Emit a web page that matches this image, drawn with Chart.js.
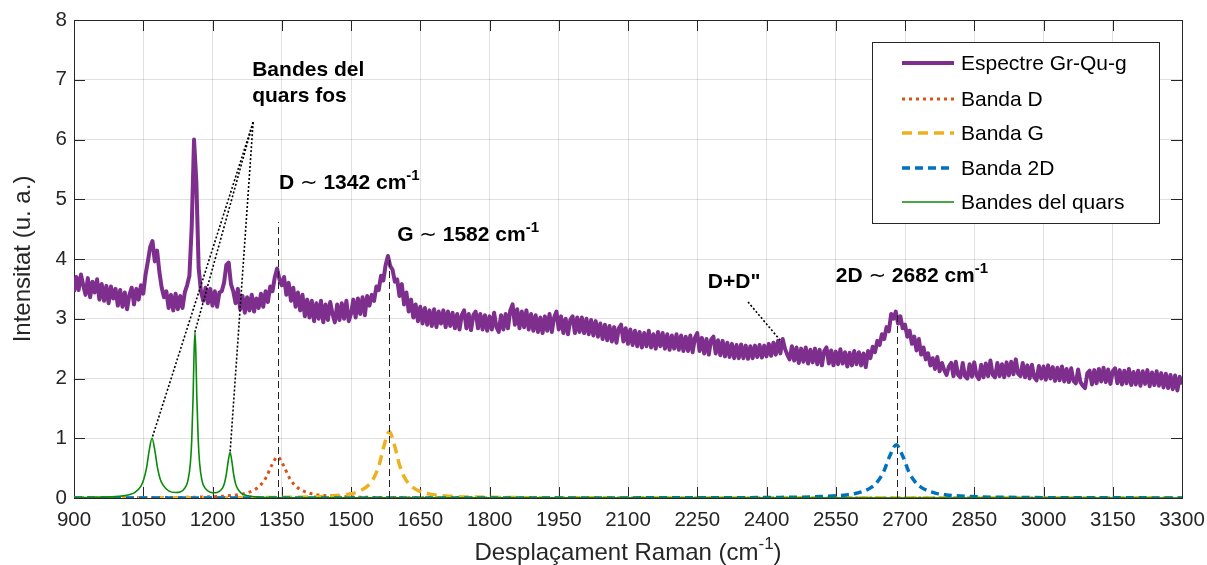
<!DOCTYPE html>
<html><head><meta charset="utf-8">
<script src="https://cdn.jsdelivr.net/npm/chart.js@4.4.1/dist/chart.umd.min.js"></script>
<style>html,body{margin:0;padding:0;background:#fff;}</style>
</head><body>
<canvas id="c" width="1207" height="565"></canvas>
<script>
const FONT = "'Liberation Sans', Arial, Helvetica, sans-serif";

// ---- axis ticks ----
const xTicks = [900,1050,1200,1350,1500,1650,1800,1950,2100,2250,2400,2550,2700,2850,3000,3150,3300];
const yTicks = [0,1,2,3,4,5,6,7,8];

// ---- measured spectrum (Raman shift grid: 900..3300 every 5 cm-1) ----
const ramanStart = 900, ramanStep = 5;
const spectrumValues = [
3.45,3.70,3.48,3.74,3.56,3.40,3.68,3.36,3.62,3.44,3.66,3.32,3.58,3.30,3.55,3.26,3.54,3.34,3.50,3.22,
3.48,3.20,3.44,3.16,3.40,3.52,3.24,3.50,3.32,3.56,3.42,3.74,3.96,4.20,4.30,3.96,4.14,3.78,3.52,3.36,
3.46,3.18,3.40,3.14,3.42,3.16,3.38,3.18,3.44,3.56,3.72,4.55,6.00,5.30,3.85,3.46,3.30,3.52,3.26,3.50,
3.22,3.46,3.20,3.44,3.46,3.60,3.90,3.94,3.58,3.46,3.26,3.50,3.16,3.38,3.10,3.36,3.14,3.40,3.12,3.34,
3.18,3.42,3.20,3.46,3.28,3.54,3.46,3.70,3.84,3.66,3.56,3.70,3.40,3.60,3.30,3.52,3.20,3.44,3.14,3.40,
3.04,3.32,3.02,3.30,2.96,3.26,3.00,3.30,2.94,3.24,2.98,3.28,3.08,2.94,3.24,2.98,3.26,3.00,3.30,2.96,
3.08,3.32,3.02,3.34,3.08,3.36,3.06,3.38,3.22,3.40,3.30,3.54,3.48,3.72,3.64,3.90,4.05,3.88,3.82,3.62,
3.66,3.38,3.58,3.24,3.44,3.12,3.32,3.02,3.24,2.96,3.20,2.92,3.18,2.90,3.14,2.88,3.16,2.86,3.12,2.92,
3.14,2.86,3.12,2.88,3.10,2.84,3.08,2.82,3.06,3.14,2.84,3.08,2.81,3.06,3.12,2.84,3.08,2.82,3.06,2.80,
3.04,2.82,3.10,2.86,2.78,3.06,2.82,3.08,2.84,3.14,3.24,2.90,3.16,2.84,3.12,2.86,3.14,2.82,3.08,2.80,
3.06,2.78,3.02,2.76,3.04,2.80,3.08,2.78,3.02,3.12,2.82,3.04,2.76,3.00,2.74,2.98,3.04,2.76,3.02,2.78,
3.02,2.76,3.00,2.74,2.98,2.72,2.96,2.70,2.92,2.66,2.90,2.64,2.88,2.62,2.86,2.60,2.84,2.90,2.62,2.84,
2.58,2.82,2.56,2.80,2.54,2.78,2.52,2.76,2.54,2.80,2.52,2.74,2.50,2.78,2.54,2.76,2.50,2.74,2.48,2.72,
2.50,2.74,2.48,2.72,2.46,2.70,2.46,2.72,2.44,2.68,2.76,2.46,2.68,2.42,2.66,2.40,2.65,2.70,2.42,2.64,
2.39,2.63,2.37,2.60,2.36,2.58,2.34,2.56,2.34,2.57,2.34,2.55,2.33,2.54,2.34,2.55,2.36,2.56,2.35,2.55,
2.37,2.58,2.38,2.60,2.40,2.63,2.42,2.66,2.50,2.40,2.32,2.54,2.30,2.52,2.26,2.50,2.28,2.52,2.25,2.48,
2.27,2.50,2.24,2.48,2.22,2.46,2.52,2.25,2.47,2.22,2.45,2.24,2.49,2.25,2.44,2.20,2.43,2.22,2.46,2.24,
2.44,2.22,2.42,2.19,2.46,2.34,2.53,2.44,2.63,2.56,2.74,2.66,2.86,2.79,3.08,3.00,3.12,2.92,3.04,2.84,
2.90,2.70,2.80,2.58,2.70,2.47,2.66,2.40,2.52,2.32,2.42,2.22,2.34,2.16,2.36,2.12,2.26,2.14,2.06,2.20,
2.26,2.04,2.28,2.06,2.02,2.26,2.04,2.00,2.24,2.03,2.27,2.05,1.99,2.23,2.02,2.25,2.04,2.30,2.06,2.02,
2.26,2.04,2.24,2.02,2.27,2.05,2.28,2.07,2.32,2.08,2.04,2.26,2.02,2.22,2.00,2.23,2.02,1.97,2.21,2.00,
2.20,1.98,2.22,2.00,2.19,1.96,2.18,1.97,2.20,1.95,2.16,1.94,2.17,1.96,1.92,2.15,1.94,1.88,1.84,2.09,
2.13,1.90,2.14,1.92,2.16,1.95,2.18,1.94,2.15,1.91,2.12,2.17,1.92,2.14,1.90,2.13,1.92,2.16,1.89,2.11,
1.90,2.13,1.88,2.12,1.91,2.14,1.87,2.10,1.89,2.12,1.88,2.09,1.85,2.08,1.84,2.06,1.82,2.05,1.80,2.03,
1.90
];

// ---- fitted bands as [shift, intensity] ----
const bandD = [[900,0.002],[1091,0.007],[1191,0.019],[1241,0.041],[1266,0.069],[1291,0.138],[1303.5,0.212],[1316,0.345],[1328.5,0.55],[1341,0.69],[1353.5,0.55],[1366,0.345],[1378.5,0.212],[1391,0.138],[1416,0.069],[1441,0.041],[1491,0.019],[1591,0.007],[1841,0.0017],[3300,0.0003]];
const bandG = [[900,0.001],[1143,0.0028],[1363,0.011],[1451,0.030],[1495,0.065],[1517,0.111],[1539,0.222],[1550,0.342],[1561,0.555],[1572,0.888],[1583,1.11],[1594,0.888],[1605,0.555],[1616,0.342],[1627,0.222],[1649,0.111],[1671,0.065],[1715,0.030],[1803,0.011],[2023,0.0028],[3300,0.0004]];
const band2D = [[900,0.0002],[2141,0.0022],[2411,0.0088],[2519,0.024],[2573,0.052],[2600,0.089],[2627,0.178],[2640.5,0.274],[2654,0.445],[2667.5,0.712],[2681,0.89],[2694.5,0.712],[2708,0.445],[2721.5,0.274],[2735,0.178],[2762,0.089],[2789,0.052],[2843,0.024],[2951,0.0088],[3221,0.0022],[3300,0.0018]];
const quartzBands = [[900,0.006],[950,0.01],[997,0.027],[1021,0.059],[1033,0.10],[1045,0.20],[1051,0.31],[1057,0.50],[1063,0.80],[1069,1.00],[1075,0.80],[1081,0.50],[1087,0.31],[1093,0.215],[1105,0.12],[1120,0.092],[1130,0.10],[1140,0.164],[1147,0.30],[1152,0.576],[1155,0.96],[1158,1.70],[1160,2.40],[1162,2.78],[1164,2.40],[1166,1.70],[1169,0.985],[1172,0.59],[1177,0.30],[1184,0.164],[1195,0.097],[1206,0.087],[1214,0.108],[1222,0.17],[1226,0.25],[1230,0.40],[1234,0.615],[1238,0.765],[1242,0.61],[1246,0.385],[1250,0.24],[1254,0.16],[1262,0.083],[1270,0.05],[1286,0.025],[1320,0.008],[1400,0.004],[1700,0.0015],[3300,0.0003]];

// ---- annotations ----
const peakMarkers = [[1342,4.62],[1582,4.0],[2682,3.1]];   // x, top of the dashed guide
const quartzPointerFrom = [1288,6.29];
const quartzPointerTo = [[1069,1.0],[1162,2.78],[1238,0.75]];
const ddPointer = [[2360,3.28],[2433,2.61]];

const toXY = arr => arr.map(p => ({x:p[0], y:p[1]}));
const spectrumXY = spectrumValues.map((v,i) => ({x: ramanStart + i*ramanStep, y: v}));

const AX = '#262626';

function drawRich(ctx, parts, x, y){
  let cx = x;
  for (const p of parts){
    ctx.font = p.font;
    ctx.fillText(p.t, cx, y - (p.dy||0));
    cx += ctx.measureText(p.t).width;
  }
  return cx;
}

const framePlugin = {
  id:'frame',
  beforeDatasetsDraw(chart){
    const {ctx, chartArea:a, scales:{x,y}} = chart;
    ctx.save();
    ctx.strokeStyle = AX; ctx.lineWidth = 1;
    ctx.beginPath();
    const L = 11;
    for (const t of xTicks){
      const px = Math.round(x.getPixelForValue(t))+0.5;
      ctx.moveTo(px, a.bottom); ctx.lineTo(px, a.bottom-L);
      ctx.moveTo(px, a.top); ctx.lineTo(px, a.top+L);
    }
    for (const t of yTicks){
      const py = Math.round(y.getPixelForValue(t))+0.5;
      ctx.moveTo(a.left, py); ctx.lineTo(a.left+L, py);
      ctx.moveTo(a.right, py); ctx.lineTo(a.right-L, py);
    }
    ctx.stroke();
    ctx.strokeRect(Math.round(a.left)+0.5, Math.round(a.top)+0.5, Math.round(a.right-a.left), Math.round(a.bottom-a.top));
    ctx.restore();
  },
  afterDatasetsDraw(chart){
    const {ctx, chartArea:a, scales:{x,y}} = chart;
    const X = v => x.getPixelForValue(v), Y = v => y.getPixelForValue(v);
    ctx.save();
    // dashed peak guides
    ctx.strokeStyle = '#222'; ctx.lineWidth = 1; ctx.setLineDash([7,4]);
    for (const [vx,vy] of peakMarkers){
      ctx.beginPath(); ctx.moveTo(Math.round(X(vx))+0.5, Y(0)); ctx.lineTo(Math.round(X(vx))+0.5, Y(vy)); ctx.stroke();
    }
    // dotted pointers
    ctx.setLineDash([2,2]); ctx.lineWidth = 1.6; ctx.strokeStyle = '#000';
    for (const [tx,ty] of quartzPointerTo){
      ctx.beginPath(); ctx.moveTo(X(quartzPointerFrom[0]), Y(quartzPointerFrom[1])); ctx.lineTo(X(tx), Y(ty)); ctx.stroke();
    }
    ctx.beginPath(); ctx.moveTo(X(ddPointer[0][0]), Y(ddPointer[0][1])); ctx.lineTo(X(ddPointer[1][0]), Y(ddPointer[1][1])); ctx.stroke();
    ctx.setLineDash([]);
    // annotation text
    ctx.fillStyle = '#000'; ctx.textBaseline = 'alphabetic'; ctx.textAlign = 'left';
    const B = "bold 21px " + FONT, S = "bold 15px " + FONT, T = "21px 'DejaVu Sans', sans-serif";
    drawRich(ctx, [{t:'Bandes del', font:B}], X(1286), Y(7.06));
    drawRich(ctx, [{t:'quars fos', font:B}], X(1286), Y(6.63));
    drawRich(ctx, [{t:'D ', font:B},{t:'\u223C', font:T},{t:' 1342 cm', font:B},{t:'-1', font:S, dy:9}], X(1344), Y(5.17));
    drawRich(ctx, [{t:'G ', font:B},{t:'\u223C', font:T},{t:' 1582 cm', font:B},{t:'-1', font:S, dy:9}], X(1600), Y(4.30));
    drawRich(ctx, [{t:'2D ', font:B},{t:'\u223C', font:T},{t:' 2682 cm', font:B},{t:'-1', font:S, dy:9}], X(2550), Y(3.615));
    drawRich(ctx, [{t:'D+D"', font:B}], X(2273), Y(3.51));
    // legend
    const lx = a.right - 310, ly = a.top + 22, lw = 287, lh = 181;
    ctx.fillStyle = '#fff'; ctx.fillRect(lx, ly, lw, lh);
    ctx.strokeStyle = AX; ctx.lineWidth = 1; ctx.strokeRect(Math.round(lx)+0.5, Math.round(ly)+0.5, lw, lh);
    const rows = [21, 57, 91, 126, 160];
    chart.data.datasets.forEach((ds, i) => {
      const ry = ly + rows[i];
      ctx.strokeStyle = ds.borderColor; ctx.lineWidth = ds.borderWidth; ctx.setLineDash(ds.borderDash || []);
      ctx.lineCap = 'butt';
      ctx.beginPath(); ctx.moveTo(lx+30, ry); ctx.lineTo(lx+82, ry); ctx.stroke();
      ctx.setLineDash([]);
      ctx.fillStyle = '#000'; ctx.font = "21px " + FONT; ctx.textBaseline = 'middle';
      ctx.fillText(ds.label, lx+89, ry+1);
    });
    // x axis title
    ctx.textBaseline = 'alphabetic'; ctx.fillStyle = AX;
    const F = "24px " + FONT, FS = "17px " + FONT;
    const parts = [{t:'Desplaçament Raman (cm', font:F},{t:'-1', font:FS, dy:11},{t:')', font:F}];
    let w = 0; for (const p of parts){ ctx.font = p.font; w += ctx.measureText(p.t).width; }
    drawRich(ctx, parts, (a.left+a.right)/2 - w/2, 560);
    ctx.restore();
  }
};

new Chart(document.getElementById('c'), {
  type:'line',
  data:{ datasets:[
    {label:'Espectre Gr-Qu-g', data:spectrumXY, borderColor:'#7E2F8E', borderWidth:4, pointRadius:0, order:5, borderJoinStyle:'round'},
    {label:'Banda D', data:toXY(bandD), borderColor:'#D95319', borderWidth:3, borderDash:[3,4], pointRadius:0, order:4, cubicInterpolationMode:'monotone'},
    {label:'Banda G', data:toXY(bandG), borderColor:'#EDB120', borderWidth:3.5, borderDash:[10,6], pointRadius:0, order:3, cubicInterpolationMode:'monotone'},
    {label:'Banda 2D', data:toXY(band2D), borderColor:'#0072BD', borderWidth:3.5, borderDash:[8,5], pointRadius:0, order:2, cubicInterpolationMode:'monotone'},
    {label:'Bandes del quars', data:toXY(quartzBands), borderColor:'#0A8A0A', borderWidth:1.6, pointRadius:0, order:1, cubicInterpolationMode:'monotone'}
  ]},
  options:{
    responsive:false, animation:false, devicePixelRatio:1,
    layout:{padding:{left:0, right:25, top:20, bottom:0}},
    plugins:{legend:{display:false}, tooltip:{enabled:false}},
    scales:{
      x:{type:'linear', min:900, max:3300,
        afterBuildTicks: s => { s.ticks = xTicks.map(v => ({value:v})); },
        afterFit: s => { s.height = 67; s.paddingLeft = 0; s.paddingRight = 0; },
        grid:{color:'rgba(38,38,38,0.14)', drawTicks:false}, border:{display:false},
        ticks:{color:AX, font:{family:FONT, size:20.5}, padding:10, maxRotation:0, autoSkip:false, callback: v => String(v)}},
      y:{type:'linear', min:0, max:8,
        afterBuildTicks: s => { s.ticks = yTicks.map(v => ({value:v})); },
        afterFit: s => { s.width = 74; s.paddingTop = 0; s.paddingBottom = 0; },
        grid:{color:'rgba(38,38,38,0.14)', drawTicks:false}, border:{display:false},
        ticks:{color:AX, font:{family:FONT, size:20.5}, padding:7, callback: v => String(v)},
        title:{display:true, text:'Intensitat (u. a.)', color:AX, font:{family:FONT, size:24}, padding:{top:9, bottom:0}}}
    }
  },
  plugins:[framePlugin]
});
</script>
</body></html>
